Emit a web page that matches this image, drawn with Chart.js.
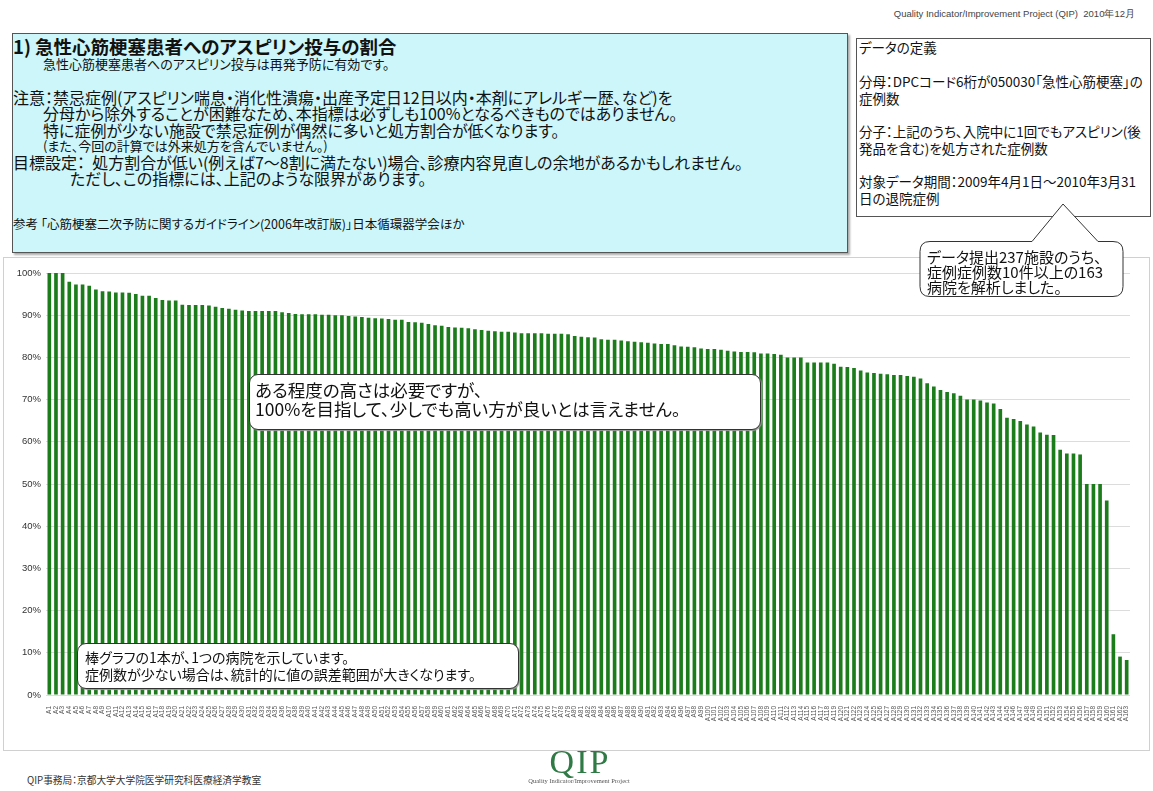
<!DOCTYPE html>
<html>
<head>
<meta charset="utf-8">
<script src="https://cdn.jsdelivr.net/npm/chart.js@4.4.1/dist/chart.umd.min.js"></script>
<style>
  body { margin: 0; background: #fff; font-family: "Noto Sans CJK JP", sans-serif; color: #111; font-feature-settings: "palt"; }
  #page { position: relative; width: 1153px; height: 791px; overflow: hidden; }
  .abs { position: absolute; white-space: nowrap; }
  .t { position: absolute; white-space: nowrap; line-height: 1; }
  #head { right: 18px; top: 8px; font-family: "Liberation Sans", sans-serif; font-size: 9.5px; color: #444; }
  #info { left: 12px; top: 33px; width: 834px; height: 218px; background: #ccf6fa; border: 1px solid #555; box-shadow: 2px 2px 2px #aaa; }
  #defs { left: 856px; top: 38px; width: 293px; height: 177px; border: 1px solid #555; background: #fff; }
  #defs .t { left: 2px; font-size: 13.5px; }
  #frame { left: 3px; top: 257px; width: 1145px; height: 492px; border: 1px solid #d0d0d0; }
  #chart { position: absolute; left: 3px; top: 257px; }
  .note { background: #fff; border: 1px solid #333; border-radius: 9px; box-shadow: 1px 1px 1px #999; }
  #foot { left: 27px; top: 773px; font-size: 9.7px; color: #333; }
  #logo { left: 529px; top: 745px; width: 100px; padding-left: 2px; box-sizing: border-box; text-align: center; font-family: "Liberation Serif", serif; color: #2f7a45; font-size: 34px; line-height: 34px; letter-spacing: 2px; }
  #logosub { left: 509px; top: 777px; width: 140px; text-align: center; font-family: "Liberation Serif", serif; font-size: 6.5px; color: #555; }
</style>
</head>
<body>
<div id="page">
  <div class="abs" id="head">Quality Indicator/Improvement Project (QIP)&nbsp; 2010年12月</div>

  <div class="abs" id="info">
    <div class="t" style="left:0;top:3.25px;font-size:18.5px;font-weight:bold;">1) 急性心筋梗塞患者へのアスピリン投与の割合</div>
    <div class="t" style="left:30px;top:23px;font-size:13px;">急性心筋梗塞患者へのアスピリン投与は再発予防に有効です。</div>
    <div class="t" style="left:0;top:54.5px;font-size:16px;">注意：禁忌症例(アスピリン喘息・消化性潰瘍・出産予定日12日以内・本剤にアレルギー歴、など)を</div>
    <div class="t" style="left:30px;top:71px;font-size:16px;">分母から除外することが困難なため、本指標は必ずしも100%となるべきものではありません。</div>
    <div class="t" style="left:30px;top:87.5px;font-size:16px;">特に症例が少ない施設で禁忌症例が偶然に多いと処方割合が低くなります。</div>
    <div class="t" style="left:30px;top:105px;font-size:13px;">(また、今回の計算では外来処方を含んでいません。)</div>
    <div class="t" style="left:0;top:119.5px;font-size:16px;">目標設定：&nbsp;&nbsp;処方割合が低い(例えば7～8割に満たない)場合、診療内容見直しの余地があるかもしれません。</div>
    <div class="t" style="left:57px;top:136px;font-size:16px;">ただし、この指標には、上記のような限界があります。</div>
    <div class="t" style="left:0;top:183.75px;font-size:12.5px;">参考 「心筋梗塞二次予防に関するガイドライン(2006年改訂版)」日本循環器学会ほか</div>
  </div>

  <div class="abs" id="defs">
    <div class="t" style="top:2.25px;">データの定義</div>
    <div class="t" style="top:36.25px;">分母：DPCコード6桁が050030「急性心筋梗塞」の</div>
    <div class="t" style="top:52.75px;">症例数</div>
    <div class="t" style="top:86.25px;">分子：上記のうち、入院中に1回でもアスピリン(後</div>
    <div class="t" style="top:102.75px;">発品を含む)を処方された症例数</div>
    <div class="t" style="top:136.25px;">対象データ期間：2009年4月1日～2010年3月31</div>
    <div class="t" style="top:152.75px;">日の退院症例</div>
  </div>

  <div class="abs" id="frame"></div>
  <canvas id="chart" width="1147" height="494"></canvas>

  <svg class="abs" style="left:0;top:0;" width="1153" height="320">
    <path d="M930,241.5 L1032,241.5 L1063,204 L1098,241.5 L1113,241.5 Q1123,241.5 1123,251.5 L1123,286.5 Q1123,296.5 1113,296.5 L930,296.5 Q920,296.5 920,286.5 L920,251.5 Q920,241.5 930,241.5 Z"
          fill="#fff" stroke="#333" stroke-width="1"/>
  </svg>
  <div class="t" style="left:927px;top:249px;font-size:15px;">データ提出237施設のうち、</div>
  <div class="t" style="left:927px;top:264px;font-size:15px;">症例症例数10件以上の163</div>
  <div class="t" style="left:927px;top:279px;font-size:15px;">病院を解析しました。</div>

  <div class="abs note" style="left:249px;top:374px;width:510px;height:54px;">
    <div class="t" style="left:5px;top:5.5px;font-size:17.5px;">ある程度の高さは必要ですが、</div>
    <div class="t" style="left:5px;top:25px;font-size:17.5px;">100%を目指して、少しでも高い方が良いとは言えません。</div>
  </div>
  <div class="abs note" style="left:77px;top:643px;width:440px;height:44px;">
    <div class="t" style="left:7px;top:6px;font-size:14px;">棒グラフの1本が、1つの病院を示しています。</div>
    <div class="t" style="left:7px;top:23px;font-size:14px;">症例数が少ない場合は、統計的に値の誤差範囲が大きくなります。</div>
  </div>

  <div class="abs" id="foot">QIP事務局：京都大学大学院医学研究科医療経済学教室</div>
  <div class="abs" id="logo">QIP</div>
  <div class="abs" id="logosub">Quality Indicator/Improvement Project</div>
</div>

<script>
// hospital codes (anonymised)
const hospitals = (
  "A1 A2 A3 A4 A5 A6 A7 A8 A9 A10 A11 A12 A13 A14 A15 A16 A17 A18 A19 A20 " +
  "A21 A22 A23 A24 A25 A26 A27 A28 A29 A30 A31 A32 A33 A34 A35 A36 A37 A38 A39 A40 " +
  "A41 A42 A43 A44 A45 A46 A47 A48 A49 A50 A51 A52 A53 A54 A55 A56 A57 A58 A59 A60 " +
  "A61 A62 A63 A64 A65 A66 A67 A68 A69 A70 A71 A72 A73 A74 A75 A76 A77 A78 A79 A80 " +
  "A81 A82 A83 A84 A85 A86 A87 A88 A89 A90 A91 A92 A93 A94 A95 A96 A97 A98 A99 A100 " +
  "A101 A102 A103 A104 A105 A106 A107 A108 A109 A110 A111 A112 A113 A114 A115 A116 A117 A118 A119 A120 " +
  "A121 A122 A123 A124 A125 A126 A127 A128 A129 A130 A131 A132 A133 A134 A135 A136 A137 A138 A139 A140 " +
  "A141 A142 A143 A144 A145 A146 A147 A148 A149 A150 A151 A152 A153 A154 A155 A156 A157 A158 A159 A160 " +
  "A161 A162 A163"
).split(" ");

// aspirin prescription rate (%) per hospital, sorted high to low
const rates = [
  100, 100, 100, 97.9, 97.3, 97.3, 97.0, 96.1, 95.7, 95.6,
  95.4, 95.4, 95.3, 95.0, 94.6, 94.6, 94.1, 93.6, 93.5, 93.5,
  92.5, 92.4, 92.4, 92.4, 92.3, 92.0, 91.7, 91.5, 91.3, 91.1,
  91.0, 91.0, 91.0, 91.0, 91.0, 90.7, 90.5, 90.3, 90.2, 90.2,
  90.2, 90.1, 90.1, 90.0, 90.0, 89.8, 89.7, 89.6, 89.4, 89.3,
  89.2, 89.1, 88.9, 88.9, 88.4, 88.3, 88.2, 87.9, 87.6, 87.5,
  87.2, 87.1, 87.0, 86.9, 86.7, 86.5, 86.3, 86.2, 86.1, 86.1,
  85.9, 85.7, 85.7, 85.7, 85.7, 85.6, 85.6, 85.6, 85.5, 85.1,
  84.9, 84.8, 84.7, 84.3, 84.2, 84.2, 84.0, 83.8, 83.7, 83.6,
  83.5, 83.3, 83.2, 83.2, 82.9, 82.6, 82.5, 82.4, 82.1, 82.0,
  82.0, 81.8, 81.6, 81.4, 81.3, 81.3, 81.2, 80.9, 80.9, 80.8,
  80.6, 80.0, 80.0, 80.0, 78.8, 78.8, 78.8, 78.8, 78.5, 77.8,
  77.7, 77.5, 76.9, 76.4, 76.3, 76.1, 76.0, 75.8, 75.8, 75.6,
  75.4, 75.0, 73.9, 73.1, 72.3, 71.8, 71.5, 70.9, 70.0, 70.0,
  69.8, 69.3, 69.1, 67.8, 65.7, 65.4, 64.9, 64.1, 63.6, 62.2,
  61.7, 61.6, 58.1, 57.2, 57.2, 57.0, 50.0, 50.0, 50.0, 46.1,
  14.4, 9.1, 8.3
];

const yTicks = [0, 10, 20, 30, 40, 50, 60, 70, 80, 90, 100];

new Chart(document.getElementById("chart"), {
  type: "bar",
  data: {
    labels: hospitals,
    datasets: [{ data: rates, backgroundColor: "#1c7c1c", barPercentage: 0.55, categoryPercentage: 1 }]
  },
  options: {
    responsive: false,
    animation: false,
    layout: { padding: { left: 0, right: 20, top: 16, bottom: 0 } },
    plugins: { legend: { display: false }, tooltip: { enabled: false } },
    scales: {
      x: {
        grid: { display: false },
        border: { display: false },
        ticks: {
          autoSkip: false, maxRotation: 90, minRotation: 90, padding: 3,
          color: "#555", font: { family: "Liberation Sans", size: 6.5 }
        },
        afterFit: (s) => { s.height = 56; }
      },
      y: {
        min: 0, max: 100,
        afterBuildTicks: (s) => { s.ticks = yTicks.map(v => ({ value: v })); },
        grid: { color: "#dcdcdc", drawTicks: false },
        border: { display: false },
        ticks: { padding: 5, color: "#333", font: { family: "Liberation Sans", size: 9.5 }, callback: v => v + "%" },
        afterFit: (s) => { s.width = 43; }
      }
    }
  }
});
</script>
</body>
</html>
